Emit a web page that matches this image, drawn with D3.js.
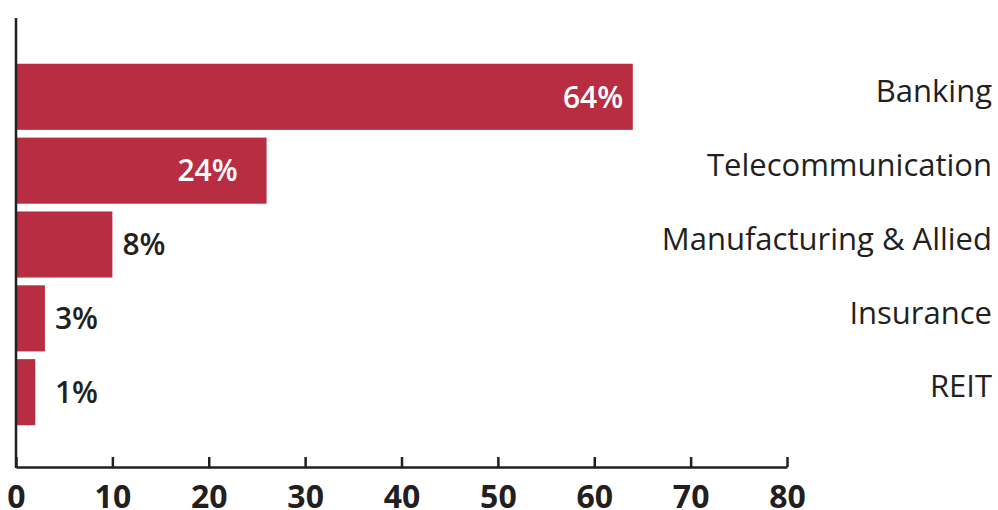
<!DOCTYPE html>
<html>
<head>
<meta charset="utf-8">
<script src="https://cdn.jsdelivr.net/npm/d3@7"></script>
<style>
  body { margin: 0; background: #fff; }
  svg { display: block; }
</style>
</head>
<body>
<svg width="998" height="510"></svg>
<script>
const sectors = ["Banking", "Telecommunication", "Manufacturing & Allied", "Insurance", "REIT"];
const barValues = [64, 26, 10, 3, 2];
const labelPct = [64, 24, 8, 3, 1];
const xTicks = [0, 10, 20, 30, 40, 50, 60, 70, 80];

const barColor = "#b82d42";
const ink = "#231f20";

const svg = d3.select("svg");

const scaleX = d3.scaleLinear()
    .domain([0, 80])
    .range([16, 787]);

const scaleY = d3.scaleBand()
    .domain(sectors)
    .range([56, 433])
    .paddingInner(0.105)
    .paddingOuter(0.105);

const axisY = 467;

// bars
sectors.forEach((s, i) => {
    svg.append("rect")
        .attr("x", scaleX(0))
        .attr("y", scaleY(s))
        .attr("width", scaleX(barValues[i]) - scaleX(0))
        .attr("height", scaleY.bandwidth())
        .style("fill", barColor);
});

// value labels: inside for big bars, outside for small ones
sectors.forEach((s, i) => {
    const cy = scaleY(s) + scaleY.bandwidth() / 2;
    const inside = barValues[i] > 20;
    svg.append("text")
        .attr("x", inside ? scaleX(labelPct[i] - 1) : Math.max(scaleX(barValues[i]), scaleX(3)) + 10)
        .attr("y", cy)
        .attr("dy", "0.36em")
        .attr("text-anchor", inside ? "end" : "start")
        .style("font-family", "'Open Sans', sans-serif")
        .style("font-size", "30px")
        .style("font-weight", 600)
        .style("fill", inside ? "#fff" : ink)
        .text(labelPct[i] + "%");
});

// category labels on the right
sectors.forEach((s, i) => {
    const cy = scaleY(s) + scaleY.bandwidth() / 2 - 6;
    svg.append("text")
        .attr("x", 992)
        .attr("y", cy)
        .attr("dy", "0.36em")
        .attr("text-anchor", "end")
        .style("font-family", "'Open Sans', sans-serif")
        .style("font-size", "31px")
        .style("font-weight", 500)
        .style("fill", ink)
        .text(s);
});

// y axis line
svg.append("line")
    .attr("x1", scaleX(0)).attr("x2", scaleX(0))
    .attr("y1", 18).attr("y2", axisY + 1)
    .attr("stroke", ink)
    .attr("stroke-width", 2.5);

// x axis
const gx = svg.append("g")
    .attr("transform", `translate(0, ${axisY})`)
    .call(d3.axisBottom(scaleX).tickValues(xTicks).tickSizeInner(-10).tickSizeOuter(0).tickPadding(0));

gx.select(".domain").attr("stroke", ink).attr("stroke-width", 2.5);
gx.selectAll(".tick line").attr("stroke", ink).attr("stroke-width", 2.5);
gx.selectAll(".tick text")
    .attr("fill", ink)
    .attr("y", 41)
    .attr("dy", 0)
    .style("font-family", "'Open Sans', sans-serif")
    .style("font-size", "32px")
    .style("font-weight", 700);
</script>
</body>
</html>
